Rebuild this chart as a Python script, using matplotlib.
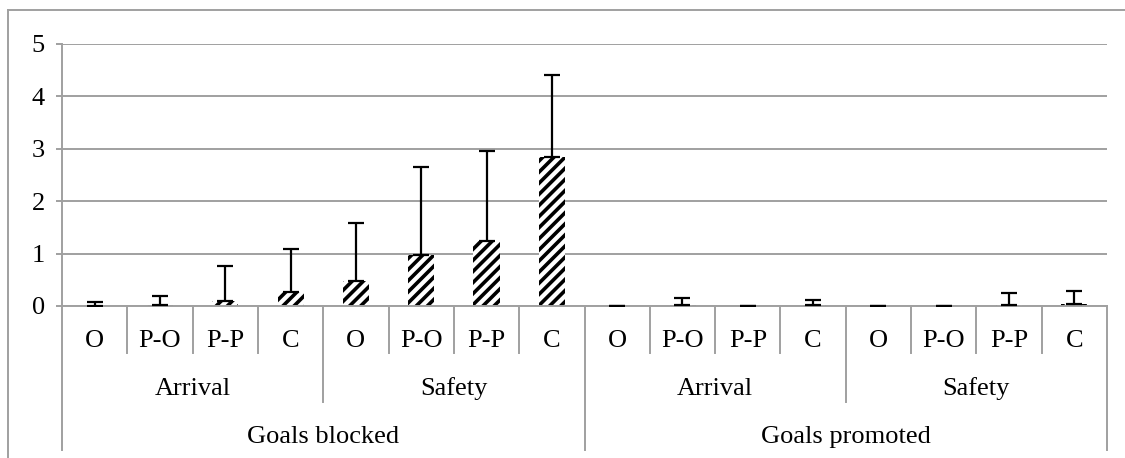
import numpy as np
import matplotlib
matplotlib.use("Agg")
import matplotlib.pyplot as plt
from matplotlib.lines import Line2D

plt.rcParams['font.family'] = ['Liberation Serif', 'DejaVu Serif']
plt.rcParams['hatch.linewidth'] = 2.6
plt.rcParams['hatch.color'] = 'black'

# conditions, nested as goal type > goal > condition
goal_types = ["Goals blocked", "Goals promoted"]
goals = ["Arrival", "Safety"]
conditions = ["O", "P-O", "P-P", "C"]

# mean per bar and its standard deviation (only the upper whisker is shown)
means = [0.0, 0.01, 0.10, 0.26, 0.47, 0.98, 1.24, 2.84,
         0.0, 0.01, 0.0, 0.01, 0.0, 0.0, 0.02, 0.03]
sds = [0.07, 0.19, 0.67, 0.82, 1.12, 1.68, 1.72, 1.57,
       0.0, 0.14, 0.0, 0.10, 0.0, 0.0, 0.23, 0.25]

W, H = 1125, 458
fig = plt.figure(figsize=(W / 100, H / 100), dpi=100)
# plot box in pixels: x 62..1107, y 44..306
ax = fig.add_axes([62 / W, (H - 306) / H, (1107 - 62) / W, (306 - 44) / H])

grey = '#a0a0a0'
n = len(means)
x = np.arange(n)

ax.bar(x, means, width=0.4, color='white', edgecolor='black', linewidth=0,
       hatch='///', zorder=3)
ax.errorbar(x, means, yerr=[np.zeros(n), sds], fmt='none', ecolor='black',
            elinewidth=1.6, capsize=5.8, capthick=1.6, zorder=6)

ax.set_xlim(-0.5, n - 0.5)
ax.set_ylim(0, 5)
ax.set_yticks(range(6))
ax.tick_params(axis='y', length=4.5, color=grey, width=1.4, labelsize=19, pad=8)
ax.set_xticks([])
ax.yaxis.grid(True, color=grey, linewidth=1.4, zorder=0)
for side in ['top', 'right', 'bottom']:
    ax.spines[side].set_visible(False)
ax.spines['left'].set_color(grey)
ax.spines['left'].set_linewidth(1.4)

# category table under the axis
def ay(py):
    return (306 - py) / (306 - 44)

trans = ax.get_xaxis_transform()
row1, row2, row3 = ay(353), ay(402), ay(450)
ax.plot([-0.5, n - 0.5], [0, 0], transform=trans, color=grey, lw=1.4,
        clip_on=False, zorder=5)
for k in range(n + 1):
    if k % 8 == 0:
        bottom = row3
    elif k % 4 == 0:
        bottom = row2
    else:
        bottom = row1
    ax.add_line(Line2D([k - 0.5, k - 0.5], [0, bottom], transform=trans,
                       color=grey, lw=1.4, clip_on=False))

for i in range(n):
    ax.text(i, ay(347), conditions[i % 4], transform=trans, ha='center',
            va='baseline', fontsize=19)
for j in range(4):
    ax.text(4 * j + 1.5, ay(395), goals[j % 2], transform=trans, ha='center',
            va='baseline', fontsize=19)
for j in range(2):
    ax.text(8 * j + 3.5, ay(443), goal_types[j], transform=trans, ha='center',
            va='baseline', fontsize=19)

# chart-area border
fig.add_artist(Line2D([8 / W, 1], [1 - 10 / H, 1 - 10 / H], color=grey, lw=1.4))
fig.add_artist(Line2D([8 / W, 8 / W], [0, 1 - 10 / H], color=grey, lw=1.4))

fig.savefig("out.png", dpi=100)
